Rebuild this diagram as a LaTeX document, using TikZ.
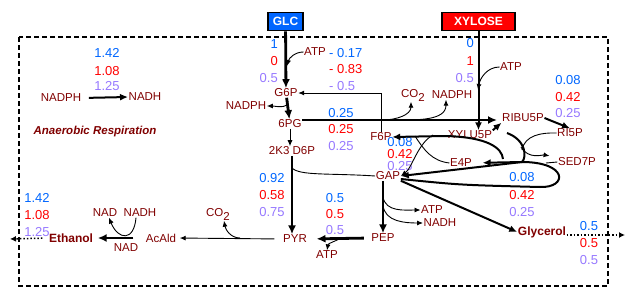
\documentclass[tikz,border=0pt]{standalone}
\usepackage{fontspec}
\setmainfont{Liberation Sans}
\usetikzlibrary{arrows.meta}
\definecolor{metred}{RGB}{128,0,0}
\definecolor{numblue}{RGB}{0,102,255}
\definecolor{numred}{RGB}{255,0,0}
\definecolor{numpurple}{RGB}{150,120,255}
\definecolor{glcblue}{RGB}{0,102,255}
\newcommand{\cotwo}{CO\raisebox{-4pt}{2}}

\begin{document}
\begin{tikzpicture}[x=1pt, y=-1pt,
  met/.style={text=metred, inner sep=0.5pt, font=\fontsize{11.5}{12}\selectfont},
  prod/.style={met, font=\bfseries\fontsize{12}{13}\selectfont},
  src/.style={draw, line width=1.6pt, text=white, inner sep=1pt, minimum height=18pt, font=\bfseries\fontsize{12}{13}\selectfont},
  nb/.style={text=numblue, inner sep=0pt, font=\fontsize{13}{14}\selectfont},
  nr/.style={nb, text=numred},
  np/.style={nb, text=numpurple},
  flux/.style={line width=2.8pt, >={Latex[length=9pt,width=8pt]}},
  mid/.style={line width=2pt, >={Latex[length=8pt,width=7pt]}},
  side/.style={line width=0.9pt, >={Latex[length=6pt,width=5pt]}},
  leak/.style={line width=1.5pt, dotted, >={Latex[length=6pt,width=6pt]}}]
\useasboundingbox (0,0) rectangle (635,300);
\draw[line width=2pt, dash pattern=on 5pt off 3pt] (19,37) rectangle (608,286);

% sources
\node (GLC) [src, fill=glcblue, minimum width=35pt] at (285.5,21.5) {GLC};
\node (XYLOSE) [src, fill=red, minimum width=73pt] at (478.5,21.5) {XYLOSE};

% metabolites
\node (G6P) [met] at (286,93) {G6P};
\node (6PG) [met] at (290,124) {6PG};
\node (2K3D6P) [met] at (292,151) {2K3 D6P};
\node (F6P) [met] at (381,137) {F6P};
\node (GAP) [met] at (388,176) {GAP};
\node (PYR) [met] at (295,239) {PYR};
\node (PEP) [met] at (383,238) {PEP};
\node (AcAld) [met] at (161,238) {AcAld};
\node (Ethanol) [prod] at (71,238) {Ethanol};
\node (Glycerol) [prod] at (542,232) {Glycerol};
\node (RIBU5P) [met] at (523,118) {RIBU5P};
\node (RI5P) [met] at (570,133) {RI5P};
\node (XYLU5P) [met] at (470,135) {XYLU5P};
\node (E4P) [met] at (461,163) {E4P};
\node (SED7P) [met] at (577,162) {SED7P};

% cofactors
\node (NADPH1) [met] at (61,98) {NADPH};
\node (NADH1) [met] at (145,97) {NADH};
\node (ATP1) [met] at (315,52) {ATP};
\node (NADPH2) [met] at (246,106) {NADPH};
\node (CO21) [met] at (413,95) {\cotwo};
\node (NADPH3) [met] at (452,95) {NADPH};
\node (ATP2) [met] at (511,67) {ATP};
\node (ATP3) [met] at (432,210) {ATP};
\node (NADH3) [met] at (440,223) {NADH};
\node (ATP4) [met] at (327,255) {ATP};
\node (CO22) [met] at (218,214) {\cotwo};
\node (NAD1) [met] at (105,213) {NAD};
\node (NADH2) [met] at (140,213) {NADH};
\node (NAD2) [met] at (126,248) {NAD};
\node (anaer) [met, font=\bfseries\itshape\fontsize{11.5}{12}\selectfont] at (95,132) {Anaerobic Respiration};

% flux values
\node (nadb) [nb] at (107,53) {1.42};
\node (nadr) [nr] at (107,71) {1.08};
\node (nadp) [np] at (107,86) {1.25};
\node (glcb) [nb, anchor=east] at (278,44) {1};
\node (glcr) [nr, anchor=east] at (278,61) {0};
\node (glcp) [np, anchor=east] at (278,78) {0.5};
\node (atpb) [nb, anchor=west] at (329,53) {- 0.17};
\node (atpr) [nr, anchor=west] at (329,69) {- 0.83};
\node (atpp) [np, anchor=west] at (329,86) {- 0.5};
\node (xylb) [nb, anchor=east] at (474,43) {0};
\node (xylr) [nr, anchor=east] at (474,61) {1};
\node (xylp) [np, anchor=east] at (474,78) {0.5};
\node (ribb) [nb] at (568,80) {0.08};
\node (ribr) [nr] at (568,97) {0.42};
\node (ribp) [np] at (568,113) {0.25};
\node (pgb) [nb] at (341,113) {0.25};
\node (pgr) [nr] at (341,129) {0.25};
\node (pgp) [np] at (341,146) {0.25};
\node (f6b) [nb] at (400,142) {0.08};
\node (f6r) [nr] at (400,154) {0.42};
\node (f6p) [np] at (400,166) {0.25};
\node (pyb) [nb] at (272,178) {0.92};
\node (pyr) [nr] at (272,195) {0.58};
\node (pyp) [np] at (272,212) {0.75};
\node (peb) [nb] at (335,198) {0.5};
\node (per) [nr] at (335,214) {0.5};
\node (pep) [np] at (335,230) {0.5};
\node (e4b) [nb] at (522,177) {0.08};
\node (e4r) [nr] at (522,195) {0.42};
\node (e4p) [np] at (522,212) {0.25};
\node (glyb) [nb] at (589,226) {0.5};
\node (glyr) [nr] at (589,243) {0.5};
\node (glyp) [np] at (589,260) {0.5};
\node (etb) [nb] at (37,198) {1.42};
\node (etr) [nr] at (37,215) {1.08};
\node (etp) [np] at (37,232) {1.25};

% free ends and joints
\coordinate (atp1in) at (287,66);
\coordinate (nadph2out) at (288,101);
\coordinate (r6) at (497,120);
\coordinate (co2out) at (383,120);
\coordinate (nadph3out) at (396,120);
\coordinate (atp2in) at (478,90);
\coordinate (k1) at (292,168);
\coordinate (atp3out) at (383,197);
\coordinate (nadh3out) at (383,205);
\coordinate (atp4out) at (341,238);
\coordinate (co22out) at (240,238);
\coordinate (glyout) at (625,235);
\coordinate (ethout) at (10,239);
\coordinate (x1) at (522,162);
\coordinate (x2) at (546,163);
\coordinate (t1) at (503,159);
\coordinate (t2) at (507,133);
\coordinate (y1) at (521,147);
\coordinate (y2) at (522,150);
\coordinate (c1) at (415,136);
\coordinate (c2) at (433,135);

% glycolysis and pentose phosphate
\draw[flux,->] (GLC) -- (G6P);
\draw[side,->] (ATP1.west) to[out=180,in=75] (atp1in);
\draw[flux,->] (G6P) -- (6PG);
\draw[side,->] (nadph2out) to[out=-90,in=0] (NADPH2.east);
\draw[side,->] (6PG.south) -- (6PG.south |- 2K3D6P.north);
\draw[flux,->] (6PG.east |- r6) -- (r6);
\draw[side,->] (co2out) to[out=0,in=-90] ([xshift=-2pt]CO21.south);
\draw[side,->] (nadph3out) to[out=0,in=-90] ([xshift=-6pt]NADPH3.south);
\draw[side,->] (F6P.north) |- (G6P.east);
\draw[mid,->] (XYLOSE.south) -- (XYLOSE.south |- XYLU5P.north);
\draw[side,->] (ATP2.west) to[out=180,in=80] (atp2in);
\draw[mid,->] (XYLU5P.north east) -- (RIBU5P.south west);
\draw[mid,->] (RIBU5P.east) -- (RI5P.north);
\draw[flux,->] (2K3D6P.south) -- (2K3D6P.south |- PYR.north);
\draw[side] (k1) .. controls (300,176) and (330,173) .. (GAP.west);

% transketolase / transaldolase
\draw[mid,->] (t1) .. controls (502,148) and (488,137) .. (445,136) -- (F6P.east);
\draw[mid] (t2) .. controls (526,140) and (527,157) .. (x1);
\draw[mid,->] (x1) -- (GAP.east);
\draw[mid,->, shorten >=10pt] ([yshift=-3pt]GAP.east) .. controls (460,185) .. (540,187) .. controls (568,188) and (568,162) .. (x1) -- (E4P.east);
\draw[side] (RI5P.west) to[out=178,in=80] (y2);
\draw[side,->, shorten >=8pt] (y1) to[out=-60,in=170] (SED7P.north west);
\draw[side] (SED7P.west) -- (x2);
\draw[side] (c1) .. controls (424,150) and (432,161) .. (E4P.west);
\draw[side,->] (c2) .. controls (418,143) and (412,168) .. (GAP.east);

% lower glycolysis and products
\draw[flux,->] (PEP.north |- GAP.south) -- (PEP.north);
\draw[side,->] (atp3out) to[out=-80,in=180] (ATP3.west);
\draw[side,->] (nadh3out) to[out=-85,in=180] (NADH3.west);
\draw[mid,->] (GAP.south east) -- (Glycerol.west);
\draw[leak,->] (Glycerol.east |- glyout) -- (glyout);
\draw[flux,->, shorten <=7pt, shorten >=9pt] (PEP.west) -- (PYR.east);
\draw[side,->] (atp4out) to[out=-150,in=80] (ATP4.north);
\draw[side,->, shorten <=8pt, shorten >=3pt] (PYR.west) -- (AcAld.east);
\draw[side,->] (co22out) to[out=180,in=-80] ([xshift=6pt]CO22.south);
\draw[flux,->, shorten <=12pt, shorten >=4pt] (AcAld.west) -- (Ethanol.east);
\draw[side,->] ([xshift=-4pt]NADH2.south) .. controls (134,242) and (118,240) .. ([xshift=4pt]NAD1.south);
\draw[leak,->, shorten <=6pt] (Ethanol.west) -- (ethout);
\draw[mid,->, shorten <=7pt] (NADPH1.east) -- (NADH1.west);
\end{tikzpicture}
\end{document}
